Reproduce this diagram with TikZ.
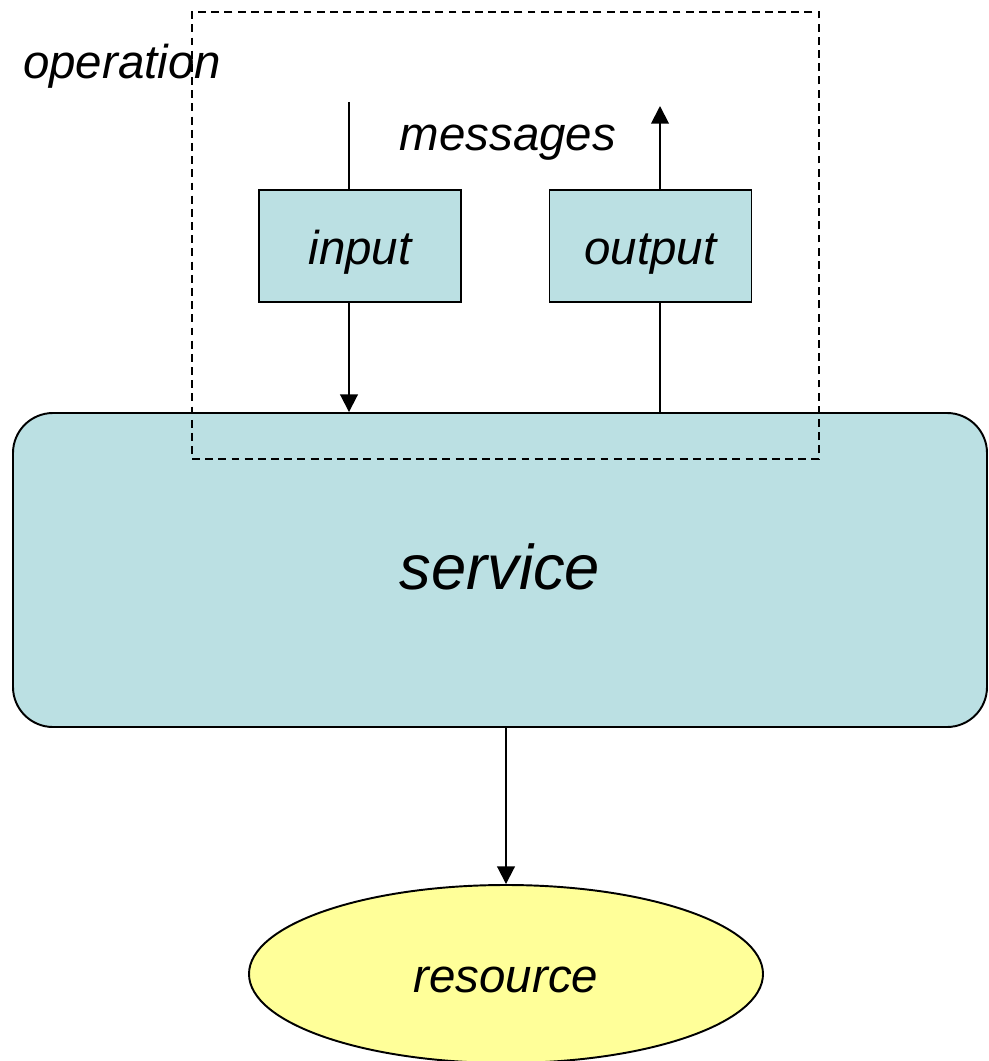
\documentclass[tikz,border=0pt]{standalone}
\usepackage{fontspec}
\setmainfont{Liberation Sans}
\usetikzlibrary{arrows.meta,shapes.geometric}
\definecolor{msgcyan}{HTML}{BBE0E3}
\definecolor{resyellow}{HTML}{FFFF99}

\begin{document}
\begin{tikzpicture}[line width=1.1pt, >={Triangle[length=10pt,width=10pt]},
    lbl/.style={font=\itshape\fontsize{27}{30}\selectfont, text height=0.93cm, text depth=0.2cm},
    msgbox/.style={draw, fill=msgcyan, lbl, minimum width=4.04cm, minimum height=2.24cm, inner sep=0pt}]
    \useasboundingbox (0,0) rectangle (19.76,-21.22);
    % service and the operation frame over it
    \node[draw, fill=msgcyan, rounded corners=0.8cm, minimum width=19.48cm, minimum height=6.28cm,
          inner sep=0pt, text height=1.03cm, text depth=0.27cm,
          font=\itshape\fontsize{36}{40}\selectfont] (service) at (10.00,-11.40) {service};
    \node[draw, dashed, dash pattern=on 4.5pt off 3pt, minimum width=12.54cm, minimum height=8.94cm,
          inner sep=0pt] (opbox) at (10.11,-4.71) {};
    \node[lbl] (oplabel) at (2.44,-1.20) {operation};
    \node[lbl] (msglabel) at (10.16,-2.64) {messages};
    % messages
    \node[msgbox] (input) at (7.20,-4.92) {input};
    \node[msgbox] (output) at (13.01,-4.92) {output};
    \coordinate (inTop) at (6.98,-2.04);
    \coordinate (outTop) at (13.20,-2.12);
    \draw (inTop) -- (inTop |- input.north);
    \draw[->] (inTop |- input.south) -- (inTop |- service.north);
    \draw (outTop |- service.north) -- (outTop |- output.south);
    \draw[->] (outTop |- output.north) -- (outTop);
    % resource
    \node[draw, ellipse, fill=resyellow, minimum width=10.28cm, minimum height=3.56cm, inner sep=0pt,
          lbl] (resource) at (10.12,-19.48) {resource};
    \draw[->] (service.south -| resource.north) -- (resource.north);
\end{tikzpicture}
\end{document}
